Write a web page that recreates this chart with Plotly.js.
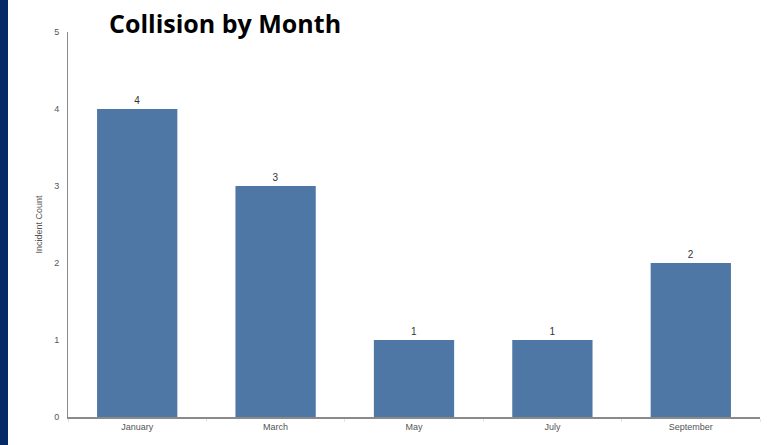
<!DOCTYPE html>
<html>
<head>
<meta charset="utf-8">
<script src="https://cdn.plot.ly/plotly-3.0.1.min.js"></script>
<style>
  html, body { margin: 0; padding: 0; background: #ffffff; }
  #strip { position: absolute; left: 0; top: 0; width: 8px; height: 445px; background: #062a66; z-index: 5; }
  #chart { position: absolute; left: 0; top: 0; width: 768px; height: 445px; }
</style>
</head>
<body>
<div id="strip"></div>
<div id="chart"></div>
<script>
const months = ["January", "March", "May", "July", "September"];
const incidentCounts = [4, 3, 1, 1, 2];
const yTicks = [0, 1, 2, 3, 4, 5];

const trace = {
  type: "bar",
  x: months,
  y: incidentCounts,
  text: incidentCounts.map(String),
  textposition: "outside",
  textfont: { family: "Liberation Sans, Arial, sans-serif", size: 10, color: "#333333" },
  cliponaxis: false,
  marker: { color: "#4e77a6", line: { width: 0 } },
  width: 0.58,
  hoverinfo: "x+y"
};

const layout = {
  width: 768,
  height: 445,
  margin: { l: 68, r: 8, t: 32, b: 28 },
  paper_bgcolor: "#ffffff",
  plot_bgcolor: "#ffffff",
  showlegend: false,
  title: {
    text: "<b>Collision by Month</b>",
    font: { family: "Open Sans, sans-serif", size: 25, color: "#000000" },
    x: 109 / 768,
    xanchor: "left",
    y: 1 - 24 / 445,
    yanchor: "middle"
  },
  xaxis: {
    type: "category",
    showgrid: false,
    zeroline: false,
    showline: true,
    linecolor: "#8a8a8a",
    linewidth: 2,
    ticks: "outside",
    tickson: "boundaries",
    ticklen: 3,
    tickcolor: "#e4e4e4",
    tickfont: { family: "Liberation Sans, Arial, sans-serif", size: 9, color: "#555555" }
  },
  yaxis: {
    range: [0, 5],
    tickvals: yTicks,
    ticktext: yTicks.map(String),
    showgrid: false,
    zeroline: false,
    showline: true,
    linecolor: "#8a8a8a",
    linewidth: 1,
    ticks: "",
    ticklabelstandoff: 6,
    tickfont: { family: "Liberation Sans, Arial, sans-serif", size: 9, color: "#555555" },
    title: {
      text: "Incident Count",
      font: { family: "Liberation Sans, Arial, sans-serif", size: 9, color: "#555555" },
      standoff: 10
    }
  }
};

Plotly.newPlot("chart", [trace], layout, { displayModeBar: false, staticPlot: true });
</script>
</body>
</html>
